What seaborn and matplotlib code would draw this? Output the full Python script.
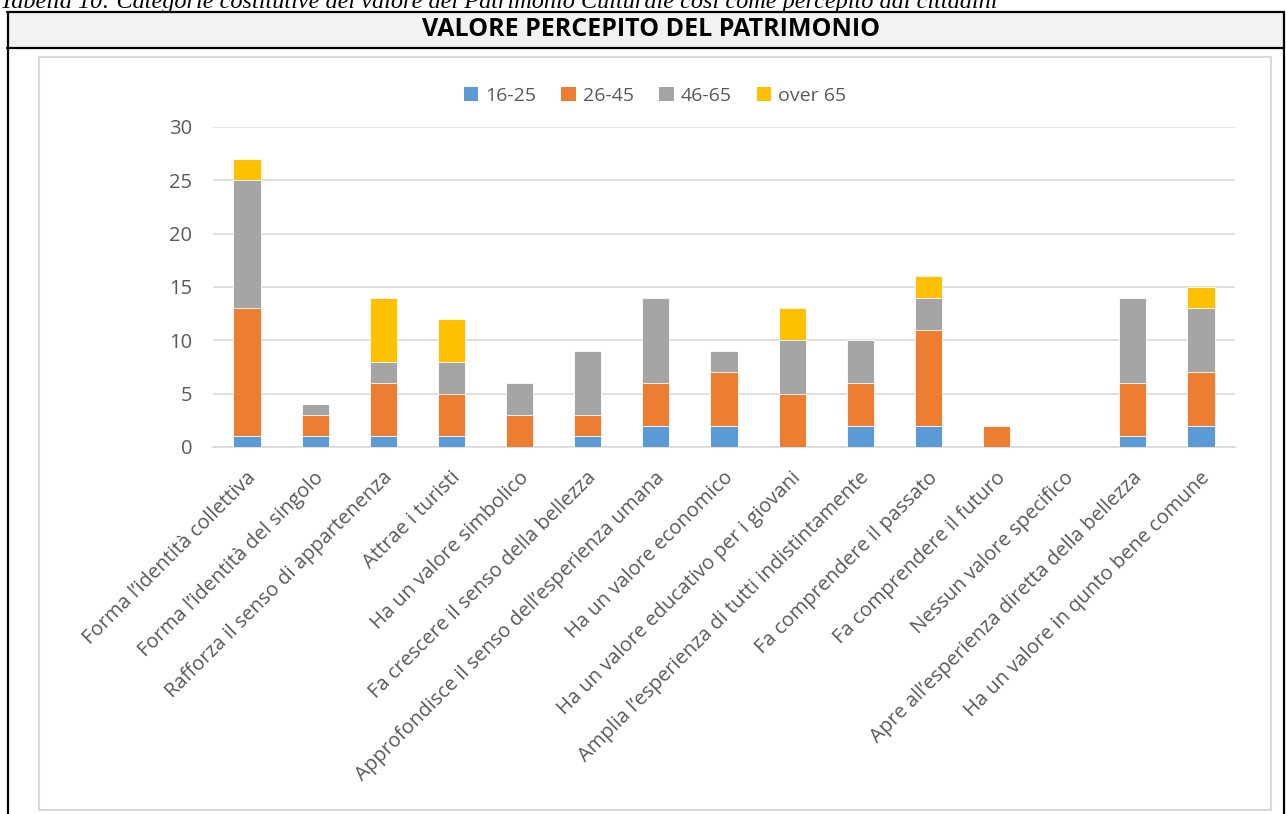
import numpy as np
import pandas as pd
import seaborn as sns
import matplotlib
matplotlib.use("Agg")
import matplotlib.pyplot as plt
from matplotlib.patches import Rectangle
from matplotlib.lines import Line2D
from matplotlib.transforms import ScaledTranslation

categories = [
    "Forma l\u2019identità collettiva",
    "Forma l\u2019identità del singolo",
    "Rafforza il senso di appartenenza",
    "Attrae i turisti",
    "Ha un valore simbolico",
    "Fa crescere il senso della bellezza",
    "Approfondisce il senso dell\u2019esperienza umana",
    "Ha un valore economico",
    "Ha un valore educativo per i giovani",
    "Amplia l\u2019esperienza di tutti indistintamente",
    "Fa comprendere il passato",
    "Fa comprendere il futuro",
    "Nessun valore specifico",
    "Apre all\u2019esperienza diretta della bellezza",
    "Ha un valore in qunto bene comune",
]
series_names = ["16-25", "26-45", "46-65", "over 65"]
age_16_25 = [1, 1, 1, 1, 0, 1, 2, 2, 0, 2, 2, 0, 0, 1, 2]
age_26_45 = [12, 2, 5, 4, 3, 2, 4, 5, 5, 4, 9, 2, 0, 5, 5]
age_46_65 = [12, 1, 2, 3, 3, 6, 8, 2, 5, 4, 3, 0, 0, 8, 6]
age_over65 = [2, 0, 6, 4, 0, 0, 0, 0, 3, 0, 2, 0, 0, 0, 2]
yticks = [0, 5, 10, 15, 20, 25, 30]

title = "VALORE PERCEPITO DEL PATRIMONIO"
caption = ("Tabella 10: Categorie costitutive del valore del Patrimonio "
           "Culturale così come percepito dai cittadini")
colors = ["#5B9BD5", "#ED7D31", "#A5A5A5", "#FFC000"]
text_color = "#595959"

sns.set_theme(style="white")
plt.rcParams["font.family"] = ["Open Sans", "DejaVu Sans"]

W, H = 1286, 814
fig = plt.figure(figsize=(W / 100, H / 100), dpi=100)

def fx(x):
    return x / W

def fy(y):
    return 1 - y / H

# caption (partially clipped at the top, as in the reference)
fig.text(fx(0), fy(8), caption, family="Liberation Serif", style="italic",
         fontsize=17.5, color="black", ha="left", va="baseline")

# table frame
fig.patches.append(Rectangle((fx(8), fy(48)), fx(1275), 36.5 / H,
                             transform=fig.transFigure, facecolor="#F2F2F2",
                             edgecolor="none", zorder=-2))
for (x0, y0, x1, y1) in [(7, 11.5, 1284, 11.5), (7, 48, 1284, 48),
                         (7.5, 11.5, 7.5, 814), (1283.5, 11.5, 1283.5, 814)]:
    fig.lines.append(Line2D([fx(x0), fx(x1)], [fy(y0), fy(y1)],
                            transform=fig.transFigure, color="black", lw=1.6))
fig.text(fx(651), fy(30), title, fontsize=18, fontweight="bold",
         color="black", ha="center", va="center")

# chart frame
fig.patches.append(Rectangle((fx(39), fy(810)), fx(1232), (810 - 57) / H,
                             transform=fig.transFigure, facecolor="white",
                             edgecolor="#D9D9D9", lw=1.5, zorder=-1))

ax = fig.add_axes([fx(213), fy(447), fx(1235 - 213), (447 - 127) / H])
ax.set_facecolor("none")

df = pd.DataFrame({"cat": categories, "16-25": age_16_25, "26-45": age_26_45,
                   "46-65": age_46_65, "over 65": age_over65})
cum = df[series_names].cumsum(axis=1)
for i in range(len(series_names) - 1, -1, -1):
    sns.barplot(x=df["cat"], y=cum[series_names[i]], order=categories,
                color=colors[i], width=0.4, ax=ax, saturation=1,
                edgecolor="white", linewidth=0.6, zorder=3)

ax.set_xlim(-0.5, len(categories) - 0.5)
ax.set_ylim(0, 30)
ax.set_yticks(yticks)
ax.set_yticklabels([str(v) for v in yticks], fontsize=14.5, color=text_color)
ax.yaxis.grid(True, color="#D9D9D9", lw=1.2, zorder=0)
ax.xaxis.grid(False)
ax.set_axisbelow(True)
for s in ["top", "right", "left"]:
    ax.spines[s].set_visible(False)
ax.spines["bottom"].set_color("#D9D9D9")
ax.spines["bottom"].set_linewidth(1.2)
ax.tick_params(axis="y", length=0, pad=15)
ax.tick_params(axis="x", length=0, pad=20)
ax.set_xlabel("")
ax.set_ylabel("")
ax.set_xticks(range(len(categories)))
ax.set_xticklabels(categories, rotation=45, ha="right", va="center",
                   rotation_mode="anchor", fontsize=14.5, color=text_color)
shift = ScaledTranslation(6 / 100, 0, fig.dpi_scale_trans)
for lbl in ax.get_xticklabels():
    lbl.set_transform(lbl.get_transform() + shift)

handles = [Rectangle((0, 0), 1, 1, facecolor=c, edgecolor="none") for c in colors]
fig.legend(handles, series_names, loc="center", bbox_to_anchor=(fx(655), fy(96)),
           ncol=4, frameon=False, fontsize=14, handlelength=0.75, handleheight=0.75,
           handletextpad=0.35, columnspacing=1.3, labelcolor=text_color)

fig.savefig("out.png", dpi=100)
